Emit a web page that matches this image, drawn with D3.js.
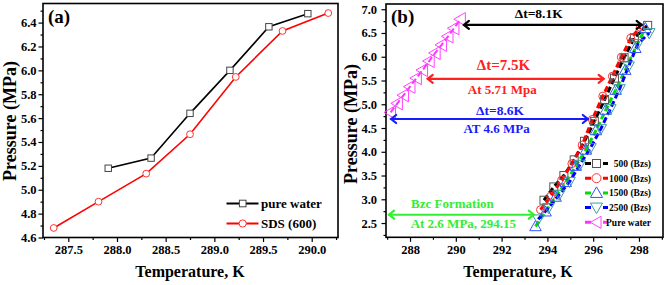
<!DOCTYPE html>
<html><head><meta charset="utf-8">
<script src="https://cdn.jsdelivr.net/npm/d3@7/dist/d3.min.js"></script>
<style>
html,body{margin:0;padding:0;background:#fff;}
svg text{font-family:"Liberation Serif","Times New Roman",serif;font-weight:bold;}
</style></head>
<body>
<svg id="c" width="669" height="285"></svg>
<script>
// ---------- Panel (a) data ----------
const aPureT = [287.91, 288.35, 288.75, 289.16, 289.56, 289.96];
const aPureP = [5.18, 5.265, 5.64, 6.00, 6.365, 6.475];
const aSdsT  = [287.35, 287.81, 288.30, 288.75, 289.22, 289.70, 290.17];
const aSdsP  = [4.68, 4.90, 5.135, 5.465, 5.945, 6.33, 6.48];
const aXTicks = [287.5, 288.0, 288.5, 289.0, 289.5, 290.0];
const aYTicks = [4.6, 4.8, 5.0, 5.2, 5.4, 5.6, 5.8, 6.0, 6.2, 6.4];
const aLegend = ["pure water", "SDS (600)"];

// ---------- Panel (b) data ----------
const b500T  = [293.85, 294.28, 294.72, 295.17, 295.62, 296.05, 296.50, 296.93, 297.35, 297.80, 298.38];
const b500P  = [2.98, 3.26, 3.50, 3.83, 4.22, 4.64, 5.10, 5.55, 5.98, 6.40, 6.66];
const b1000T = [293.70, 294.14, 294.62, 295.07, 295.52, 295.96, 296.42, 296.84, 297.23, 297.64, 298.06];
const b1000P = [2.78, 3.06, 3.40, 3.75, 4.14, 4.68, 5.17, 5.59, 5.99, 6.39, 6.62];
const b1500T = [293.48, 293.92, 294.36, 294.80, 295.24, 295.68, 296.12, 296.55, 296.98, 297.40, 297.84, 298.28];
const b1500P = [2.43, 2.74, 3.05, 3.36, 3.70, 4.04, 4.45, 4.88, 5.30, 5.72, 6.18, 6.60];
const b2500T = [293.60, 294.05, 294.52, 294.97, 295.42, 295.88, 296.33, 296.75, 297.15, 297.55, 297.95, 298.45];
const b2500P = [2.58, 2.82, 3.10, 3.37, 3.73, 4.08, 4.48, 4.90, 5.32, 5.80, 6.27, 6.50];
const bPureT = [287.15, 287.45, 287.72, 288.00, 288.28, 288.55, 288.84, 289.10, 289.38, 289.66, 289.92, 290.20];
const bPureP = [4.83, 5.02, 5.19, 5.37, 5.55, 5.72, 5.91, 6.08, 6.25, 6.43, 6.60, 6.79];
const bXTicks = [288, 290, 292, 294, 296, 298];
const bYTicks = [2.5, 3.0, 3.5, 4.0, 4.5, 5.0, 5.5, 6.0, 6.5, 7.0];
const bLegend = ["500 (Bzs)", "1000 (Bzs)", "1500 (Bzs)", "2500 (Bzs)", "Pure water"];

const svg = d3.select("#c");
const zip = (T, P) => T.map((t, i) => ({t, p: P[i]}));

function frame(g, x, y, xt, xMinor, yt, yMinor, xfmt, yfmt, ypad) {
  const [x0, x1] = x.range(), [y0, y1] = y.range();
  g.append("g").attr("transform", `translate(0,${y0})`)
    .call(d3.axisBottom(x).tickValues(xMinor).tickSize(2.5).tickFormat(""))
    .call(a => a.select(".domain").remove());
  g.append("g").attr("transform", `translate(0,${y0})`)
    .call(d3.axisBottom(x).tickValues(xt).tickSize(4.5).tickPadding(3).tickFormat(xfmt).tickSizeOuter(0))
    .call(a => a.select(".domain").remove())
    .call(a => a.selectAll("text").attr("font-size", 12.5).attr("fill", "#000"));
  g.append("g").attr("transform", `translate(${x0},0)`)
    .call(d3.axisLeft(y).tickValues(yMinor).tickSize(2.5).tickFormat(""))
    .call(a => a.select(".domain").remove());
  g.append("g").attr("transform", `translate(${x0},0)`)
    .call(d3.axisLeft(y).tickValues(yt).tickSize(4.5).tickPadding(ypad).tickFormat(yfmt).tickSizeOuter(0))
    .call(a => a.select(".domain").remove())
    .call(a => a.selectAll("text").attr("font-size", 12.5).attr("fill", "#000"));
  g.selectAll(".tick line").attr("stroke", "#000").attr("stroke-width", 1.2);
  g.append("rect").attr("x", x0).attr("y", y1).attr("width", x1 - x0).attr("height", y0 - y1)
    .attr("fill", "none").attr("stroke", "#000").attr("stroke-width", 1.6);
}

// ================= Panel (a) =================
const xA = d3.scaleLinear().domain([287.24, 290.27]).range([43, 338]);
const yA = d3.scaleLinear().domain([4.6, 6.56]).range([237.5, 3.5]);
const gA = svg.append("g");
frame(gA, xA, yA, aXTicks, [287.25, 287.75, 288.25, 288.75, 289.25, 289.75, 290.25],
  aYTicks, [4.7, 4.9, 5.1, 5.3, 5.5, 5.7, 5.9, 6.1, 6.3, 6.5], d3.format(".1f"), d3.format(".1f"), 2);

const lineA = d3.line().x(d => xA(d.t)).y(d => yA(d.p));
const aPure = zip(aPureT, aPureP), aSds = zip(aSdsT, aSdsP);
gA.append("path").datum(aSds).attr("d", lineA).attr("fill", "none").attr("stroke", "#ff0000").attr("stroke-width", 1.6);
gA.append("path").datum(aPure).attr("d", lineA).attr("fill", "none").attr("stroke", "#000").attr("stroke-width", 1.6);
gA.selectAll(".sq").data(aPure).join("rect")
  .attr("x", d => xA(d.t) - 3.2).attr("y", d => yA(d.p) - 3.2).attr("width", 6.4).attr("height", 6.4)
  .attr("fill", "#fff").attr("stroke", "#444").attr("stroke-width", 1);
gA.selectAll(".ci").data(aSds).join("circle")
  .attr("cx", d => xA(d.t)).attr("cy", d => yA(d.p)).attr("r", 3.4)
  .attr("fill", "#fff").attr("stroke", "#ff3333").attr("stroke-width", 1);

// legend (a)
const legA = [{c: "#000", m: "sq", mc: "#444"}, {c: "#ff0000", m: "ci", mc: "#ff3333"}];
legA.forEach((L, i) => {
  const cy = 203.5 + i * 20;
  gA.append("line").attr("x1", 226.5).attr("x2", 258.5).attr("y1", cy).attr("y2", cy).attr("stroke", L.c).attr("stroke-width", 1.8);
  if (L.m === "sq") gA.append("rect").attr("x", 242.7 - 3.3).attr("y", cy - 3.3).attr("width", 6.6).attr("height", 6.6).attr("fill", "#fff").attr("stroke", L.mc);
  else gA.append("circle").attr("cx", 242.7).attr("cy", cy).attr("r", 3.6).attr("fill", "#fff").attr("stroke", L.mc);
  gA.append("text").attr("x", 261).attr("y", cy + 4.5).attr("font-size", 13).text(aLegend[i]);
});
gA.append("text").attr("x", 48).attr("y", 23).attr("font-size", 19).text("(a)");
gA.append("text").attr("x", 190).attr("y", 277).attr("text-anchor", "middle").attr("font-size", 16).text("Temperature, K");
gA.append("text").attr("transform", "translate(16,121) rotate(-90)").attr("text-anchor", "middle").attr("font-size", 18).text("Pressure (MPa)");

// ================= Panel (b) =================
const xB = d3.scaleLinear().domain([286.95, 299.05]).range([386, 663]);
const yB = d3.scaleLinear().domain([2.2, 7.11]).range([237.3, 4]);
const gB = svg.append("g");
frame(gB, xB, yB, bXTicks, [287, 289, 291, 293, 295, 297, 299],
  bYTicks, [2.25, 2.75, 3.25, 3.75, 4.25, 4.75, 5.25, 5.75, 6.25, 6.75], d3.format("d"), d3.format(".1f"), 4.5);

const lineB = d3.line().x(d => xB(d.t)).y(d => yB(d.p));
const series = [
  {d: zip(b500T, b500P), c: "#000000", m: "square", mc: "#555555"},
  {d: zip(b1000T, b1000P), c: "#ff0000", m: "circle", mc: "#ff3333"},
  {d: zip(b1500T, b1500P), c: "#00dd00", m: "up", mc: "#3355ff"},
  {d: zip(b2500T, b2500P), c: "#0000ff", m: "down", mc: "#3a9e9e"},
  {d: zip(bPureT, bPureP), c: "#ff33ff", m: "left", mc: "#ff44ff"}
];
function marker(g, m, x, y, col, s, fill) {
  let el;
  if (m === "square") el = g.append("rect").attr("x", x - s * 0.5).attr("y", y - s * 0.5).attr("width", s).attr("height", s);
  else if (m === "circle") el = g.append("circle").attr("cx", x).attr("cy", y).attr("r", s * 0.5);
  else {
    const h = s * 0.55;
    let pts;
    if (m === "up") pts = [[x, y - h], [x - h, y + h * 0.75], [x + h, y + h * 0.75]];
    else if (m === "down") pts = [[x, y + h], [x - h, y - h * 0.75], [x + h, y - h * 0.75]];
    else pts = [[x - h, y], [x + h * 0.75, y - h], [x + h * 0.75, y + h]];
    el = g.append("polygon").attr("points", pts.map(p => p.join(",")).join(" "));
  }
  el.attr("fill", fill).attr("stroke", col).attr("stroke-width", 1);
}
series.forEach((S, i) => {
  gB.append("path").datum(S.d).attr("d", lineB).attr("fill", "none").attr("stroke", S.c)
    .attr("stroke-width", i === 4 ? 2 : 3).attr("stroke-dasharray", "6,3");
});
series.forEach(S => {
  S.d.forEach(d => marker(gB, S.m, xB(d.t), yB(d.p), S.mc,
    S.m === "circle" ? 8 : S.m === "square" ? 8 : S.m === "left" ? 12 : 10.5, "none"));
});

// legend (b)
series.forEach((S, i) => {
  const cy = 163.5 + i * 14.7;
  gB.append("line").attr("x1", 585).attr("x2", 608).attr("y1", cy).attr("y2", cy).attr("stroke", S.c)
    .attr("stroke-width", 3).attr("stroke-dasharray", "6,3");
  marker(gB, S.m, 596.5, cy, S.mc, S.m === "circle" ? 9 : S.m === "square" ? 8 : 11, "#fff");
  gB.append("text").attr("x", 651).attr("y", cy + 3.5).attr("text-anchor", "end").attr("font-size", 9.5).text(bLegend[i]);
});

// annotations (data coordinates)
const arrows = [
  {t0: 290.31, t1: 298.16, p: 6.67, c: "#000"},
  {t0: 288.73, t1: 296.50, p: 5.535, c: "#ff2020"},
  {t0: 287.13, t1: 295.81, p: 4.69, c: "#1a1aff"},
  {t0: 287.04, t1: 293.45, p: 2.675, c: "#33ee33"}
];
arrows.forEach(A => {
  const xa = xB(A.t0), xb = xB(A.t1), y = yB(A.p);
  const g = gB.append("g").attr("stroke", A.c).attr("fill", "none").attr("stroke-width", 2.2).attr("stroke-linecap", "round");
  g.append("line").attr("x1", xa + 1).attr("x2", xb - 1).attr("y1", y).attr("y2", y);
  g.append("path").attr("d", `M${xa + 6},${y - 4}L${xa + 1},${y}L${xa + 6},${y + 4}`);
  g.append("path").attr("d", `M${xb - 6},${y - 4}L${xb - 1},${y}L${xb - 6},${y + 4}`);
});
const notes = [
  {t: 293.62, p: 6.815, s: "\u0394t=8.1K", c: "#000", f: 13.5},
  {t: 292.08, p: 5.72, s: "\u0394t=7.5K", c: "#ff2020", f: 15},
  {t: 292.03, p: 5.22, s: "At 5.71 Mpa", c: "#ff2020", f: 13},
  {t: 291.93, p: 4.78, s: "\u0394t=8.6K", c: "#1a1aff", f: 13.5},
  {t: 291.78, p: 4.40, s: "AT 4.6 MPa", c: "#1a1aff", f: 13},
  {t: 289.85, p: 2.82, s: "Bzc Formation", c: "#33ee33", f: 13},
  {t: 290.33, p: 2.40, s: "At 2.6 MPa, 294.15", c: "#33ee33", f: 13}
];
notes.forEach(N => gB.append("text").attr("x", xB(N.t)).attr("y", yB(N.p)).attr("text-anchor", "middle")
  .attr("font-size", N.f).attr("fill", N.c).text(N.s));

gB.append("text").attr("x", 391).attr("y", 23).attr("font-size", 19).text("(b)");
gB.append("text").attr("x", 518).attr("y", 277).attr("text-anchor", "middle").attr("font-size", 16).text("Temperature, K");
gB.append("text").attr("transform", "translate(357,124) rotate(-90)").attr("text-anchor", "middle").attr("font-size", 18).text("Pressure (MPa)");
</script>
</body></html>
